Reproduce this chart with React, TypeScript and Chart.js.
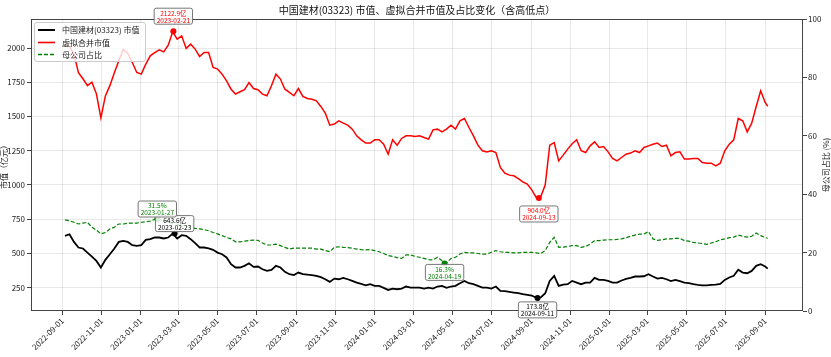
import React, { useEffect, useRef } from 'react';
import { Chart, registerables } from 'chart.js';

Chart.register(...registerables);

// ---------------- data ----------------
const START_DATE = '2022-09-05';
const WEEKLY_COUNT = 157;
const LAST_DATE = '2025-09-05';

const SERIES_NAMES = ['中国建材(03323) 市值', '虚拟合并市值', '母公司占比'];

// 中国建材(03323) 市值 (亿元)
const BLACK_VALUES = [
  627, 639, 583, 542, 535, 505, 476, 444, 396, 452,
  493, 535, 583, 591, 583, 559, 554, 559, 598, 603,
  615, 615, 608, 615, 643, 608, 632, 627, 603, 574,
  542, 542, 535, 525, 505, 493, 469, 420, 396, 396,
  408, 427, 400, 403, 383, 371, 379, 408, 396, 364,
  347, 340, 359, 347, 344, 340, 335, 325, 310, 291,
  315, 310, 320, 310, 298, 286, 276, 266, 274, 262,
  262, 247, 232, 242, 237, 242, 257, 249, 249, 249,
  242, 249, 242, 257, 262, 247, 257, 262, 281, 298,
  281, 274, 262, 249, 249, 242, 257, 225, 223, 218,
  213, 208, 201, 196, 191, 175, 178, 208, 298, 335,
  262, 271, 274, 298, 286, 274, 286, 286, 320, 305,
  305, 298, 286, 286, 301, 313, 320, 330, 330, 332,
  347, 330, 315, 320, 310, 296, 305, 296, 286, 281,
  274, 269, 266, 266, 269, 271, 276, 305, 323, 335,
  379, 359, 354, 371, 408, 420, 403, 388,
];

// 虚拟合并市值 (亿元)
const RED_VALUES = [
  2030, 2010, 1955, 1820, 1775, 1725, 1750, 1665, 1490, 1650,
  1725, 1820, 1907, 1990, 1960, 1894, 1821, 1809, 1882, 1943,
  1967, 1987, 1972, 2021, 2118, 2065, 2089, 1997, 2028, 1992,
  1938, 1967, 1967, 1858, 1846, 1809, 1760, 1699, 1663, 1680,
  1695, 1748, 1704, 1695, 1663, 1651, 1724, 1809, 1773, 1699,
  1675, 1651, 1704, 1646, 1631, 1626, 1614, 1573, 1524, 1436,
  1444, 1468, 1451, 1436, 1407, 1358, 1329, 1305, 1305, 1329,
  1329, 1297, 1224, 1329, 1290, 1339, 1358, 1358, 1353, 1358,
  1346, 1334, 1402, 1407, 1387, 1407, 1436, 1407, 1468, 1485,
  1419, 1358, 1290, 1249, 1241, 1249, 1236, 1127, 1085, 1071,
  1066, 1046, 1022, 1005, 963, 906, 912, 1000, 1290, 1309,
  1175, 1217, 1261, 1300, 1330, 1249, 1236, 1285, 1314, 1273,
  1280, 1241, 1193, 1175, 1200, 1224, 1232, 1249, 1236, 1273,
  1285, 1297, 1305, 1280, 1290, 1212, 1236, 1241, 1188, 1188,
  1193, 1193, 1163, 1158, 1158, 1139, 1158, 1249, 1297, 1329,
  1485, 1468, 1387, 1451, 1573, 1687, 1602, 1573,
];

// 母公司占比 (%)
const GREEN_VALUES = [
  31.2, 30.9, 30.4, 29.8, 30.1, 30.4, 28.7, 27.7, 26.4, 26.9,
  28.1, 28.7, 29.8, 29.8, 30.1, 30.1, 30.1, 30.4, 30.6, 30.8,
  31.4, 31.2, 30.8, 30.6, 29.8, 29.8, 29.2, 29.0, 28.7, 28.3,
  28.1, 27.9, 27.5, 26.9, 26.4, 25.8, 25.2, 24.7, 23.7, 23.7,
  23.9, 24.1, 24.3, 24.2, 23.3, 22.6, 22.6, 22.9, 22.4, 21.8,
  21.2, 21.5, 21.5, 21.5, 21.5, 21.5, 21.2, 21.2, 20.7, 20.3,
  21.8, 22.0, 21.8, 21.7, 21.5, 21.2, 21.0, 20.9, 21.0, 20.7,
  20.3, 19.7, 19.0, 18.7, 18.3, 18.0, 19.2, 19.2, 18.7, 18.4,
  18.0, 17.6, 17.5, 18.4, 17.2, 16.4, 18.0, 18.4, 19.5, 20.1,
  19.9, 19.9, 19.7, 19.5, 19.5, 20.1, 20.7, 20.3, 20.1, 20.1,
  19.9, 19.9, 20.1, 20.1, 20.1, 19.9, 19.7, 20.7, 23.5, 25.2,
  21.8, 21.9, 22.1, 22.4, 22.4, 21.8, 22.1, 22.9, 24.1, 24.1,
  24.3, 24.4, 24.4, 24.5, 24.7, 25.1, 25.6, 26.0, 26.3, 26.4,
  27.2, 24.7, 24.2, 24.4, 24.7, 24.7, 24.9, 24.9, 24.1, 23.9,
  23.5, 23.3, 23.1, 22.8, 23.3, 23.7, 24.4, 24.7, 25.1, 25.3,
  26.0, 25.6, 25.3, 25.6, 26.7, 25.8, 25.2, 24.9,
];

const X_TICK_LABELS = [
  '2022-09-01', '2022-11-01', '2023-01-01', '2023-03-01', '2023-05-01',
  '2023-07-01', '2023-09-01', '2023-11-01', '2024-01-01', '2024-03-01',
  '2024-05-01', '2024-07-01', '2024-09-01', '2024-11-01', '2025-01-01',
  '2025-03-01', '2025-05-01', '2025-07-01', '2025-09-01',
];
const LEFT_TICKS = [250, 500, 750, 1000, 1250, 1500, 1750, 2000];
const RIGHT_TICKS = [0, 20, 40, 60, 80, 100];

const TITLE = '中国建材(03323) 市值、虚拟合并市值及占比变化（含高低点）';
const LEFT_AXIS_TITLE = '市值（亿元）';
const RIGHT_AXIS_TITLE = '母公司占比 (%)';

// high / low annotations
const ANNOT_SERIES = [1, 1, 0, 0, 2, 2];
const ANNOT_KIND = ['max', 'min', 'max', 'min', 'max', 'min'];
const ANNOT_DATES = ['2023-02-21', '2024-09-13', '2023-02-23', '2024-09-11', '2023-01-27', '2024-04-19'];
const ANNOT_VALUES = [2122.9, 904.0, 643.6, 173.8, 31.5, 16.3];
const ANNOT_TEXT = ['2122.9亿', '904.0亿', '643.6亿', '173.8亿', '31.5%', '16.3%'];

// ---------------- styles ----------------
const COLORS = ['#000000', '#ff0000', '#008000'];
const ANNOT_GAP = [7, 8, 2, 4, 2, 1];
const FONT = '"Noto Sans CJK SC", "DejaVu Sans", sans-serif';

const DAY0 = Date.UTC(2022, 8, 1);
function dayOf(iso: string): number {
  const [y, m, d] = iso.split('-').map(Number);
  return (Date.UTC(y, m - 1, d) - DAY0) / 86400000;
}
function addDaysISO(iso: string, n: number): string {
  const [y, m, d] = iso.split('-').map(Number);
  return new Date(Date.UTC(y, m - 1, d + n)).toISOString().slice(0, 10);
}
const DATES = [
  ...Array.from({ length: WEEKLY_COUNT }, (_, i) => addDaysISO(START_DATE, 7 * i)),
  LAST_DATE,
];
const toPoints = (vals: number[]) => vals.map((v, i) => ({ x: dayOf(DATES[i]), y: v }));

function roundRect(ctx: CanvasRenderingContext2D, x: number, y: number, w: number, h: number, r: number) {
  ctx.beginPath();
  ctx.moveTo(x + r, y);
  ctx.lineTo(x + w - r, y);
  ctx.arcTo(x + w, y, x + w, y + r, r);
  ctx.lineTo(x + w, y + h - r);
  ctx.arcTo(x + w, y + h, x + w - r, y + h, r);
  ctx.lineTo(x + r, y + h);
  ctx.arcTo(x, y + h, x, y + h - r, r);
  ctx.lineTo(x, y + r);
  ctx.arcTo(x, y, x + r, y, r);
  ctx.closePath();
}

const overlayPlugin = {
  id: 'overlay',
  beforeDraw(chart: any) {
    const ctx = chart.ctx;
    ctx.save();
    ctx.fillStyle = '#ffffff';
    ctx.fillRect(0, 0, chart.width, chart.height);
    ctx.restore();
  },
  afterDraw(chart: any) {
    const ctx: CanvasRenderingContext2D = chart.ctx;
    const a = chart.chartArea;
    const sx = chart.scales.x;
    ctx.save();

    // frame
    ctx.strokeStyle = '#444';
    ctx.lineWidth = 1;
    ctx.strokeRect(Math.round(a.left) + 0.5, Math.round(a.top) + 0.5,
      Math.round(a.right) - Math.round(a.left) - 1, Math.round(a.bottom) - Math.round(a.top) - 1);

    // markers
    const pos = ANNOT_DATES.map((d, k) => {
      const axis = ANNOT_SERIES[k] === 2 ? chart.scales.y1 : chart.scales.y;
      return { px: sx.getPixelForValue(dayOf(d)), py: axis.getPixelForValue(ANNOT_VALUES[k]) };
    });
    pos.forEach((p, k) => {
      ctx.beginPath();
      ctx.fillStyle = COLORS[ANNOT_SERIES[k]];
      ctx.arc(p.px, p.py, 3, 0, Math.PI * 2);
      ctx.fill();
    });

    // annotation boxes
    ctx.font = `6.5px ${FONT}`;
    ctx.textAlign = 'center';
    ctx.textBaseline = 'middle';
    pos.forEach((p, k) => {
      const lines = [ANNOT_TEXT[k], ANNOT_DATES[k]];
      const w = Math.max(...lines.map((l) => ctx.measureText(l).width)) + 5;
      const h = 16;
      const top = ANNOT_KIND[k] === 'max' ? p.py - ANNOT_GAP[k] - h : p.py + ANNOT_GAP[k];
      roundRect(ctx, p.px - w / 2, top, w, h, 2);
      ctx.fillStyle = 'rgba(255,255,255,0.85)';
      ctx.fill();
      ctx.strokeStyle = '#777';
      ctx.lineWidth = 1;
      ctx.stroke();
      ctx.fillStyle = COLORS[ANNOT_SERIES[k]];
      ctx.fillText(lines[0], p.px, top + 5);
      ctx.fillText(lines[1], p.px, top + 12);
    });

    // legend
    const lx = 34.5, ly = 22.5, lw = 111, lh = 39;
    roundRect(ctx, lx, ly, lw, lh, 2.5);
    ctx.fillStyle = 'rgba(255,255,255,0.8)';
    ctx.fill();
    ctx.strokeStyle = '#cccccc';
    ctx.lineWidth = 1;
    ctx.stroke();
    const rowY = [30, 42.5, 54.5];
    const widths = [2, 1.6, 1.3];
    ctx.font = `8px ${FONT}`;
    ctx.textAlign = 'left';
    ctx.textBaseline = 'middle';
    SERIES_NAMES.forEach((name, i) => {
      ctx.beginPath();
      ctx.strokeStyle = COLORS[i];
      ctx.lineWidth = widths[i];
      ctx.setLineDash(i === 2 ? [4, 2] : []);
      ctx.moveTo(38, rowY[i]);
      ctx.lineTo(55, rowY[i]);
      ctx.stroke();
      ctx.setLineDash([]);
      ctx.fillStyle = '#222';
      ctx.fillText(name, 62, rowY[i]);
    });

    // title
    ctx.font = `10px ${FONT}`;
    ctx.textAlign = 'center';
    ctx.fillStyle = '#111';
    ctx.fillText(TITLE, (a.left + a.right) / 2, 10);

    // axis titles
    ctx.font = `8px ${FONT}`;
    ctx.fillStyle = '#222';
    ctx.save();
    ctx.translate(4, (a.top + a.bottom) / 2);
    ctx.rotate(-Math.PI / 2);
    ctx.fillText(LEFT_AXIS_TITLE, 0, 0);
    ctx.restore();
    ctx.save();
    ctx.translate(826, (a.top + a.bottom) / 2);
    ctx.rotate(-Math.PI / 2);
    ctx.fillText(RIGHT_AXIS_TITLE, 0, 0);
    ctx.restore();

    ctx.restore();
  },
};

export default function App() {
  const ref = useRef<HTMLCanvasElement>(null);
  useEffect(() => {
    document.body.style.margin = '0';
    const tickFont = { family: FONT, size: 8 };
    const gridColor = 'rgba(0,0,0,0.09)';
    const chart = new Chart(ref.current as HTMLCanvasElement, {
      type: 'line',
      data: {
        datasets: [
          {
            label: SERIES_NAMES[0], data: toPoints(BLACK_VALUES), borderColor: COLORS[0],
            borderWidth: 1.8, pointRadius: 0, yAxisID: 'y', tension: 0,
          },
          {
            label: SERIES_NAMES[1], data: toPoints(RED_VALUES), borderColor: COLORS[1],
            borderWidth: 1.5, pointRadius: 0, yAxisID: 'y', tension: 0,
          },
          {
            label: SERIES_NAMES[2], data: toPoints(GREEN_VALUES), borderColor: COLORS[2],
            borderWidth: 1.2, borderDash: [4, 2], pointRadius: 0, yAxisID: 'y1', tension: 0,
          },
        ],
      } as any,
      options: {
        animation: false,
        responsive: false,
        maintainAspectRatio: false,
        layout: { padding: { top: 19, left: 0, right: 0, bottom: 0 } },
        plugins: {
          legend: { display: false },
          title: { display: false },
          tooltip: { enabled: false },
        },
        scales: {
          x: {
            type: 'linear',
            min: -49,
            max: 1155,
            afterBuildTicks: (s: any) => { s.ticks = X_TICK_LABELS.map((l) => ({ value: dayOf(l) })); },
            afterFit: (s: any) => { s.height = 46; },
            ticks: {
              callback: (_v: any, i: number) => X_TICK_LABELS[i],
              autoSkip: false, minRotation: 45, maxRotation: 45,
              font: tickFont, color: '#222', padding: 1,
            },
            grid: { color: gridColor, tickColor: '#444', tickLength: 4 },
            border: { display: false },
          },
          y: {
            position: 'left',
            min: 78,
            max: 2212,
            afterBuildTicks: (s: any) => { s.ticks = LEFT_TICKS.map((v) => ({ value: v })); },
            afterFit: (s: any) => { s.width = 31; },
            ticks: { font: tickFont, color: '#222', padding: 2, callback: (v: any) => String(v) },
            grid: { color: gridColor, tickColor: '#444', tickLength: 4 },
            border: { display: false },
          },
          y1: {
            position: 'right',
            min: 0,
            max: 100,
            afterBuildTicks: (s: any) => { s.ticks = RIGHT_TICKS.map((v) => ({ value: v })); },
            afterFit: (s: any) => { s.width = 28; },
            ticks: { font: tickFont, color: '#222', padding: 1, callback: (v: any) => String(v) },
            grid: { drawOnChartArea: false, tickColor: '#444', tickLength: 4 },
            border: { display: false },
          },
        },
      } as any,
      plugins: [overlayPlugin],
    });
    return () => chart.destroy();
  }, []);
  return (
    <div style={{ position: 'fixed', left: 0, top: 0, width: 831, height: 357, background: '#fff' }}>
      <canvas ref={ref} width={831} height={357} style={{ display: 'block', width: 831, height: 357 }} />
    </div>
  );
}
